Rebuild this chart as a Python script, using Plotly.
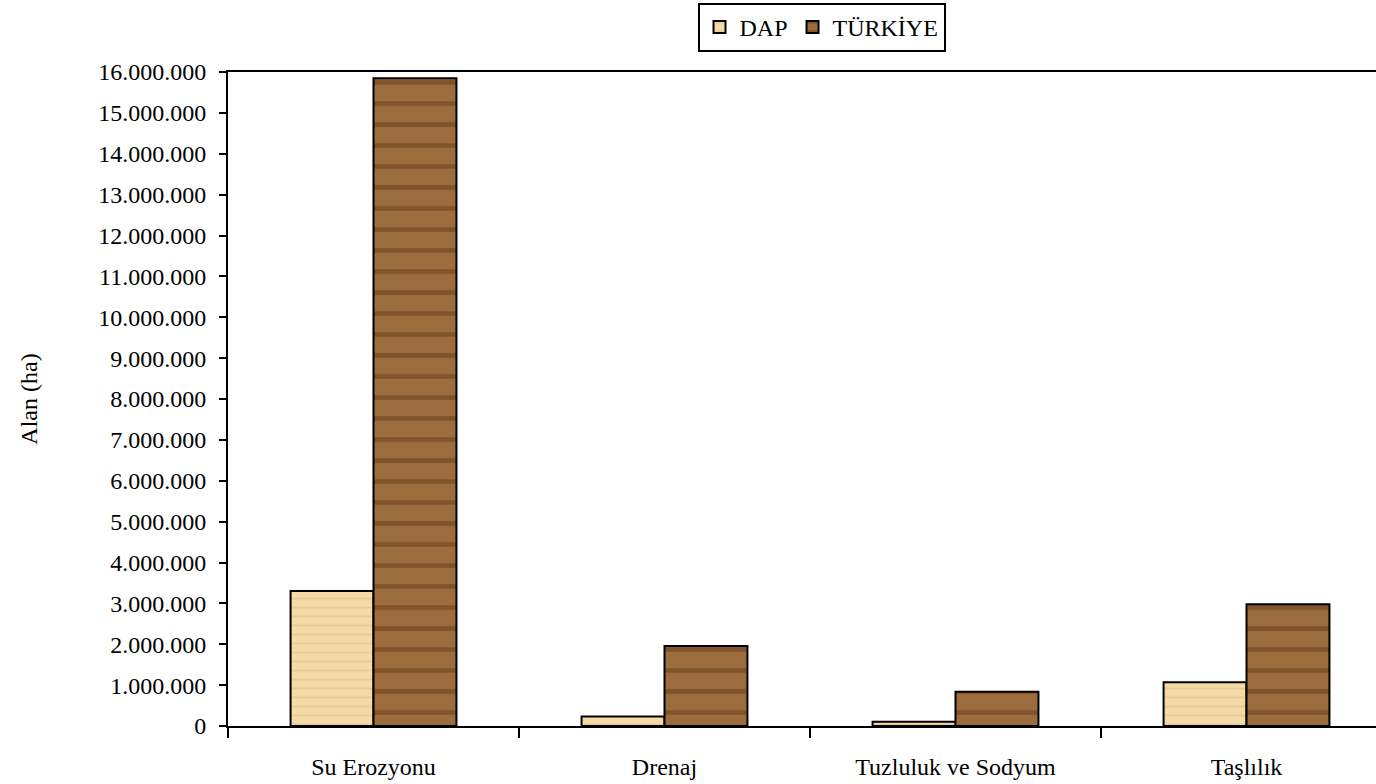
import plotly.graph_objects as go

categories = ["Su Erozyonu", "Drenaj", "Tuzluluk ve Sodyum", "Taşlılık"]
dap = [3300000, 230000, 105000, 1070000]
turkiye = [15850000, 1960000, 840000, 2980000]

FONT = "Liberation Serif, Times New Roman, serif"
FS = 24

fig = go.Figure()
fig.add_trace(go.Bar(
    name="DAP", x=categories, y=dap,
    marker=dict(color="#F0D49C", line=dict(color="black", width=2),
                pattern=dict(shape="-", fgcolor="#E2BE84", bgcolor="#F3DAA6", size=9, solidity=0.2)),
))
fig.add_trace(go.Bar(
    name="TÜRKİYE", x=categories, y=turkiye,
    marker=dict(color="#94643A", line=dict(color="black", width=2),
                pattern=dict(shape="-", fgcolor="#633B1A", bgcolor="#9C6C3C", size=21, solidity=0.22)),
))

fig.update_layout(
    width=1376, height=784,
    margin=dict(l=228, r=0, t=72, b=58),
    paper_bgcolor="white", plot_bgcolor="white",
    barmode="group", bargap=0.43, bargroupgap=0,
    separators=",.",
    font=dict(family=FONT, size=FS, color="black"),
    showlegend=True,
    legend=dict(orientation="h", x=0.517, xanchor="center", y=1.1055, yanchor="top",
                bordercolor="black", borderwidth=2, bgcolor="white",
                font=dict(family=FONT, size=FS), itemwidth=30, traceorder="normal",
                tracegroupgap=0),
)
fig.update_xaxes(
    type="category", range=[-0.5, 3.445],
    showline=True, linecolor="black", linewidth=2, mirror=True,
    ticks="outside", tickson="boundaries", ticklen=10, tickwidth=2, tickcolor="black",
    showgrid=False, tickfont=dict(family=FONT, size=FS), ticklabelstandoff=18,
)
fig.update_yaxes(
    range=[0, 16000000], dtick=1000000, tickformat=",d",
    showline=True, linecolor="black", linewidth=2,
    ticks="outside", ticklen=7, tickwidth=2, tickcolor="black",
    showgrid=False, zeroline=False, tickfont=dict(family=FONT, size=FS),
    ticklabelstandoff=8,
    title=dict(text="Alan (ha)", font=dict(family=FONT, size=FS), standoff=54),
)

fig.write_html("out.html")
